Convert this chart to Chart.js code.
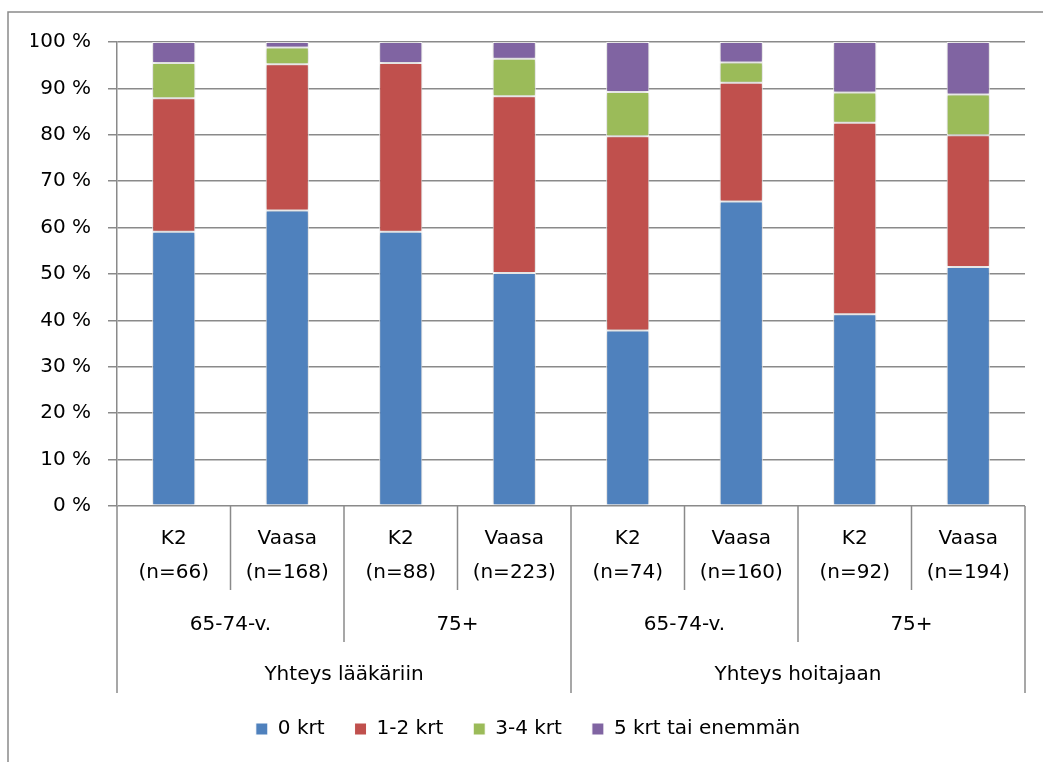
<!DOCTYPE html>
<html>
<head>
<meta charset="utf-8">
<script src="https://cdn.jsdelivr.net/npm/chart.js@4/dist/chart.umd.min.js"></script>
<style>
  html, body { margin: 0; padding: 0; background: #ffffff; }
  #wrap { width: 1043px; height: 762px; position: relative; }
</style>
</head>
<body>
<div id="wrap"><canvas id="c" width="1043" height="762"></canvas></div>
<script>
// Sub-categories (bottom row of the x axis)
const sites = ['K2', 'Vaasa', 'K2', 'Vaasa', 'K2', 'Vaasa', 'K2', 'Vaasa'];
const sampleSizes = [66, 168, 88, 223, 74, 160, 92, 194];
// Middle and top grouping rows (each age group spans 2 bars, each contact type 4 bars)
const ageGroups = ['65-74-v.', '75+', '65-74-v.', '75+'];
const contactGroups = ['Yhteys lääkäriin', 'Yhteys hoitajaan'];

// Share of respondents (%) by number of contacts
const seriesNames = ['0 krt', '1-2 krt', '3-4 krt', '5 krt tai enemmän'];
const zeroTimes   = [59.1, 63.7, 59.1, 50.2, 37.8, 65.6, 41.3, 51.5];
const oneTwo      = [28.8, 31.5, 36.4, 38.1, 41.9, 25.6, 41.3, 28.4];
const threeFour   = [7.6, 3.6, 0, 8.1, 9.5, 4.4, 6.5, 8.8];
const fivePlus    = [4.5, 1.2, 4.5, 3.6, 10.8, 4.4, 10.9, 11.3];

// Y axis ticks
const yMin = 0, yMax = 100, yStep = 10;
const yTickLabel = v => v + ' %';

const FONT = 'DejaVu Sans';
const GRID = '#8a8a8a';
const colors = ['#4F81BD', '#C0504D', '#9BBB59', '#8064A2'];

const xLabels = sites.map((s, i) => [s, '(n=' + sampleSizes[i] + ')']);

// Soft drop shadow behind the bars
const barShadow = {
  id: 'barShadow',
  beforeDatasetsDraw(chart) {
    const ctx = chart.ctx;
    ctx.save();
    ctx.shadowColor = 'rgba(0,0,0,0.30)';
    ctx.shadowBlur = 5;
    ctx.shadowOffsetX = 0;
    ctx.shadowOffsetY = 0;
  },
  afterDatasetsDraw(chart) {
    chart.ctx.restore();
  }
};

// Outer frame plus the grouped category rows below the x axis
const groupAxis = {
  id: 'groupAxis',
  beforeDraw(chart) {
    const ctx = chart.ctx;
    ctx.save();
    ctx.strokeStyle = GRID;
    ctx.lineWidth = 1.5;
    ctx.strokeRect(8, 12, 1200, 900);
    ctx.restore();
  },
  afterDraw(chart) {
    const ctx = chart.ctx;
    const xs = chart.scales.x;
    const area = chart.chartArea;
    const n = sites.length;
    const centers = sites.map((_, i) => xs.getPixelForValue(i));
    const edges = [];
    for (let i = 0; i <= n; i++) {
      if (i === 0) edges.push(area.left);
      else if (i === n) edges.push(area.right);
      else edges.push((centers[i - 1] + centers[i]) / 2);
    }
    const perAge = n / ageGroups.length;
    const perContact = n / contactGroups.length;
    const b = area.bottom;

    ctx.save();
    ctx.strokeStyle = GRID;
    ctx.lineWidth = 1.5;
    edges.forEach((ex, i) => {
      let depth = 84;
      if (i % perContact === 0) depth = 187;
      else if (i % perAge === 0) depth = 136;
      ctx.beginPath();
      ctx.moveTo(ex, b);
      ctx.lineTo(ex, b + depth);
      ctx.stroke();
    });

    ctx.fillStyle = '#000000';
    ctx.font = '20px "' + FONT + '"';
    ctx.textAlign = 'center';
    ctx.textBaseline = 'middle';
    ageGroups.forEach((g, k) => {
      const cx = (edges[k * perAge] + edges[(k + 1) * perAge]) / 2;
      ctx.fillText(g, cx, b + 119);
    });
    contactGroups.forEach((g, k) => {
      const cx = (edges[k * perContact] + edges[(k + 1) * perContact]) / 2;
      ctx.fillText(g, cx, b + 169);
    });
    ctx.restore();
  }
};

const datasetValues = [zeroTimes, oneTwo, threeFour, fivePlus];

new Chart(document.getElementById('c'), {
  type: 'bar',
  data: {
    labels: xLabels,
    datasets: datasetValues.map((vals, i) => ({
      label: seriesNames[i],
      data: vals,
      backgroundColor: colors[i],
      borderColor: '#ffffff',
      borderWidth: 1,
      borderSkipped: false,
      barPercentage: 0.38,
      categoryPercentage: 1.0
    }))
  },
  options: {
    responsive: false,
    animation: false,
    devicePixelRatio: 1,
    layout: { padding: { left: 31, right: 18, top: 42, bottom: 13 } },
    plugins: {
      tooltip: { enabled: false },
      legend: {
        position: 'bottom',
        labels: {
          boxWidth: 12,
          boxHeight: 12,
          padding: 30,
          color: '#000000',
          font: { family: FONT, size: 20 }
        }
      }
    },
    scales: {
      x: {
        stacked: true,
        offset: true,
        grid: { display: false },
        border: { display: false },
        ticks: {
          color: '#000000',
          padding: 8,
          maxRotation: 0,
          autoSkip: false,
          font: { family: FONT, size: 20, lineHeight: 1.7 }
        },
        afterFit(scale) { scale.height = 183; }
      },
      y: {
        stacked: true,
        min: yMin,
        max: yMax,
        grid: { color: GRID, lineWidth: 1.5, tickLength: 9, drawTicks: true },
        border: { display: true, color: GRID, width: 1.5 },
        ticks: {
          stepSize: yStep,
          color: '#000000',
          padding: 17,
          font: { family: FONT, size: 20 },
          callback: yTickLabel
        },
        afterFit(scale) { scale.width = 86; }
      }
    }
  },
  plugins: [barShadow, groupAxis]
});
</script>
</body>
</html>
